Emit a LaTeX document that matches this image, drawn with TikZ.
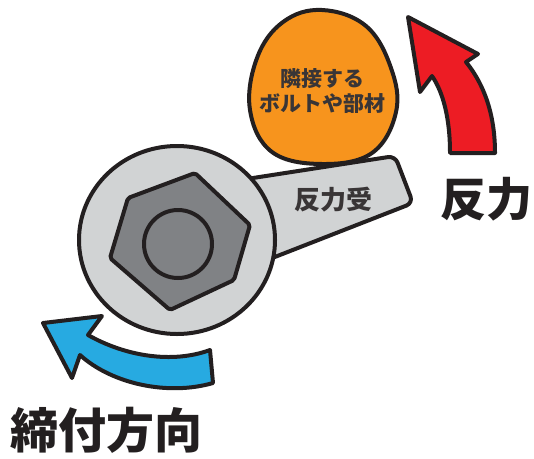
\documentclass[tikz,border=0pt]{standalone}
\usepackage{fontspec}
\usepackage{tikz}
\usetikzlibrary{positioning,calc}
\newfontfamily\jpfont{Noto Sans CJK JP}
\definecolor{inkline}{HTML}{231F20}
\definecolor{steellight}{HTML}{D1D3D4}
\definecolor{steeldark}{HTML}{808285}
\definecolor{blobfill}{HTML}{F7941D}
\definecolor{forcered}{HTML}{ED1C24}
\definecolor{turnblue}{HTML}{27AAE1}
\tikzset{
    ink/.style={
        draw=inkline,
        line width=4pt,
        line join=round
    },
    bigword/.style={
        font=\jpfont\bfseries\fontsize{46}{50}\selectfont,
        text=inkline,
        inner sep=0pt
    },
    smallword/.style={
        font=\jpfont\bfseries\fontsize{21}{25}\selectfont,
        text=inkline!90,
        align=center,
        inner sep=0pt
    }
}

\begin{document}
\begin{tikzpicture}[x=1pt, y=-1pt]
        \useasboundingbox (0,0) rectangle (534,458);
        % neighbouring bolt / part
        \draw[ink, fill=blobfill] plot[smooth cycle, tension=0.65] coordinates {
            (322,10) (366,26) (391,68) (396,112) (372,153) (322,164) (272,152) (250,110) (257,58) (283,22)};
        \node[smallword] (part) at (322,91) {隣接する\\ボルトや部材};
        % reaction arrow
        \draw[ink, fill=forcered] (408,17) -- (478,54) -- (466,62)
            .. controls (487,88) and (495,120) .. (495,153)
            -- (450,153)
            .. controls (450,118) and (443,92) .. (432,76)
            -- (420,92) -- cycle;
        \node[bigword] (force) at (486,199) {反力};
        % wrench handle and ring
        \draw[ink, fill=steellight, rounded corners=7pt] (240,180) -- (395,156) -- (413,203) -- (262,262) -- cycle;
        \draw[ink, fill=steellight] (177,240) ellipse [x radius=98, y radius=94];
        \node[smallword, font=\jpfont\bfseries\fontsize{26}{30}\selectfont] (stop) at (333,200) {反力受};
        % hex nut
        \draw[ink, fill=steeldark, rounded corners=2pt] (195,173) -- (250,225) -- (234,280)
            -- (170,310) -- (110,258) -- (128,198) -- cycle;
        \draw[ink] (178,244) circle [radius=34];
        % tightening arrow
        \draw[ink, fill=turnblue] (43,323) -- (102,316) -- (88,335)
            .. controls (125,356) and (172,364) .. (210,350)
            -- (213,383)
            .. controls (168,396) and (112,384) .. (80,355)
            -- (72,378) -- cycle;
        \node[bigword, font=\jpfont\bfseries\fontsize{48}{52}\selectfont] (turn) at (106,430) {締付方向};
\end{tikzpicture}
\end{document}
